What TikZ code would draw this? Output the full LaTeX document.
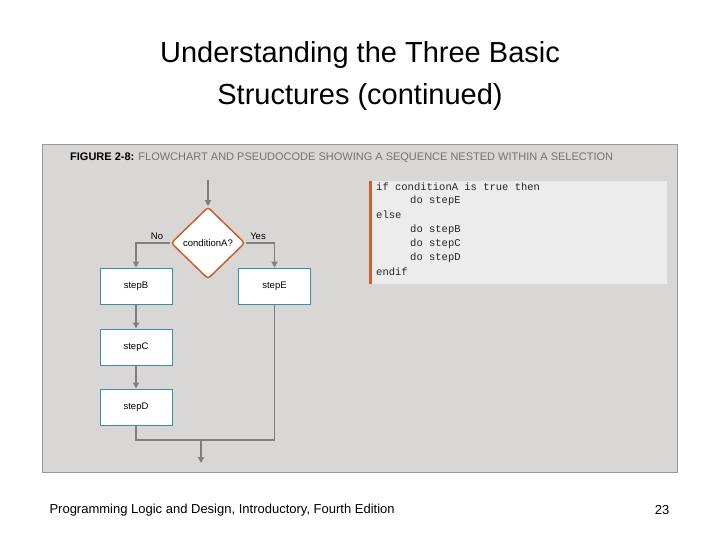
\documentclass[tikz,border=0pt]{standalone}
\usepackage{fontspec}
\setmainfont{Liberation Sans}
\newfontfamily\codefont{Liberation Mono}
\usetikzlibrary{shapes.geometric,arrows.meta}
\definecolor{panel}{HTML}{D9D7D5}
\definecolor{codebg}{HTML}{ECECEC}
\definecolor{orng}{HTML}{C8612A}
\definecolor{teal}{HTML}{3A8FA3}
\definecolor{lnk}{HTML}{7F7F7F}
\begin{document}
\begin{tikzpicture}[x=1pt,y=-1pt,
  stepbox/.style={draw=teal,fill=white,line width=1pt,minimum width=72pt,minimum height=36pt,font=\fontsize{9.5}{11}\selectfont},
  flow/.style={draw=lnk,line width=1.5pt},
  arr/.style={flow,-{Triangle[width=6pt,length=6pt]}},
  code/.style={anchor=west,font=\codefont\fontsize{10.5}{12}\selectfont,text=black!85,inner sep=0}]
\useasboundingbox (0,0) rectangle (720,540);
\fill[white] (0,0) rectangle (720,540);
\node[align=center,font=\fontsize{29}{42}\selectfont] (title) at (360,76) {Understanding the Three Basic\\Structures (continued)};
\fill[panel,draw=black!40] (42,144) rectangle (677,472);
\node[anchor=west,font=\fontsize{11}{13}\selectfont,inner sep=0] (fig) at (70,158) {\textbf{FIGURE 2-8:} \textcolor{black!55}{FLOWCHART AND PSEUDOCODE SHOWING A SEQUENCE NESTED WITHIN A SELECTION}};
\fill[codebg] (370,181) rectangle (667,284);
\fill[orng] (369,181) rectangle (372,284);
\node[code] (c1) at (376,187) {if conditionA is true then};
\node[code] (c2) at (410,201) {do stepE};
\node[code] (c3) at (376,215) {else};
\node[code] (c4) at (410,230) {do stepB};
\node[code] (c5) at (410,244) {do stepC};
\node[code] (c6) at (410,258) {do stepD};
\node[code] (c7) at (376,272) {endif};
\node[diamond,draw=orng,fill=white,line width=1.5pt,rounded corners=3pt,minimum width=74pt,minimum height=72pt,inner sep=0,font=\fontsize{9.5}{11}\selectfont] (d) at (208,243) {conditionA?};
\node[stepbox] (b) at (136,286) {stepB};
\node[stepbox] (e) at (274.5,286) {stepE};
\node[stepbox] (c) at (136,347) {stepC};
\node[stepbox] (dd) at (136,407) {stepD};
\coordinate (top) at (208,180);
\coordinate (m1) at (136,440);
\coordinate (m2) at (274.5,440);
\coordinate (out) at (201,440);
\coordinate (end) at (201,463);
\draw[arr] (top) -- (d.north);
\draw[arr] (d.west) -| (b.north);
\draw[arr] (d.east) -| (e.north);
\node[font=\fontsize{9.5}{11}\selectfont] (no) at (157,236) {No};
\node[font=\fontsize{9.5}{11}\selectfont] (yes) at (258,236) {Yes};
\draw[arr] (b) -- (c);
\draw[arr] (c) -- (dd);
\draw[flow] (dd.south) -- (m1) -- (m2) -- (e.south);
\draw[arr] (out) -- (end);
\node[anchor=west,font=\fontsize{13}{15}\selectfont] (foot) at (46,510) {Programming Logic and Design, Introductory, Fourth Edition};
\node[font=\fontsize{13}{15}\selectfont] (pg) at (662,510) {23};
\end{tikzpicture}
\end{document}
